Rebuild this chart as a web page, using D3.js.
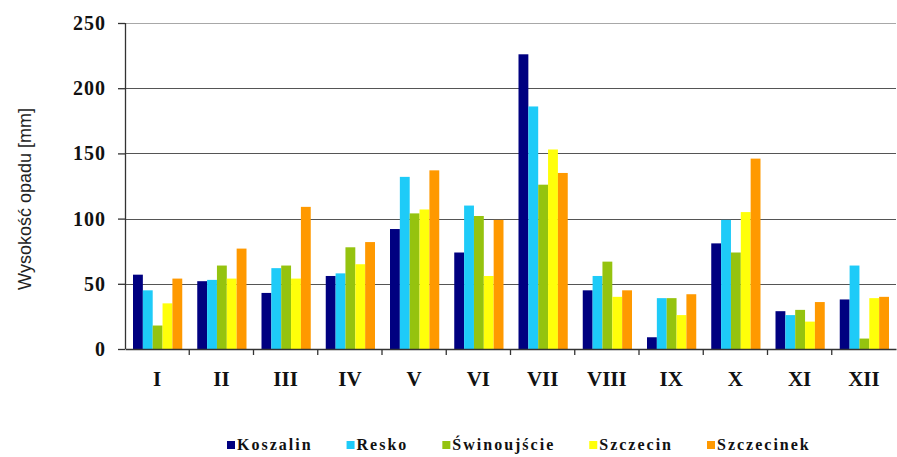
<!DOCTYPE html>
<html>
<head>
<meta charset="utf-8">
<script src="https://cdn.jsdelivr.net/npm/d3@7"></script>
<style>
  body { margin: 0; background: #fff; }
  svg { display: block; }
</style>
</head>
<body>
<script>
var months = ["I", "II", "III", "IV", "V", "VI", "VII", "VIII", "IX", "X", "XI", "XII"];
var stations = ["Koszalin", "Resko", "Świnoujście", "Szczecin", "Szczecinek"];
var colors = ["#000080", "#1ecbf8", "#95c30f", "#ffff0a", "#ff9900"];

// monthly precipitation [mm]
var koszalin    = [57, 52, 43, 56, 92, 74, 226, 45, 9, 81, 29, 38];
var resko       = [45, 53, 62, 58, 132, 110, 186, 56, 39, 99, 26, 64];
var swinoujscie = [18, 64, 64, 78, 104, 102, 126, 67, 39, 74, 30, 8];
var szczecin    = [35, 54, 54, 65, 107, 56, 153, 40, 26, 105, 21, 39];
var szczecinek  = [54, 77, 109, 82, 137, 99, 135, 45, 42, 146, 36, 40];

var yTicks = [0, 50, 100, 150, 200, 250];

var series = [koszalin, resko, swinoujscie, szczecin, szczecinek];

var width = 897, height = 457;
var margin = {top: 23, right: 1, bottom: 108, left: 125};
var plotW = width - margin.left - margin.right,
    plotH = height - margin.top - margin.bottom;

var svg = d3.select("body").append("svg")
    .attr("width", width)
    .attr("height", height);

var g = svg.append("g")
    .attr("transform", "translate(" + margin.left + "," + margin.top + ")");

var x0 = d3.scaleBand().domain(months).range([0, plotW]).padding(0);
var x1 = d3.scaleBand().domain(stations).range([8, x0.bandwidth() - 7]).padding(0);
var y = d3.scaleLinear().domain([0, 250]).range([plotH, 0]);

// gridlines
g.append("g")
  .selectAll("line")
  .data(yTicks.filter(function(d) { return d > 0; }))
  .enter().append("line")
  .attr("x1", 0).attr("x2", plotW)
  .attr("y1", function(d) { return Math.round(y(d)) + 0.5; })
  .attr("y2", function(d) { return Math.round(y(d)) + 0.5; })
  .attr("stroke", function(d) { return d == 250 ? "#a8a8a8" : "#555"; })
  .attr("stroke-width", 1.2);

// bars
var groups = g.append("g")
  .selectAll("g")
  .data(months)
  .enter().append("g")
  .attr("transform", function(d) { return "translate(" + x0(d) + ",0)"; });

groups.selectAll("rect")
  .data(function(m, i) {
    return stations.map(function(s, k) { return {station: s, k: k, value: series[k][i]}; });
  })
  .enter().append("rect")
  .attr("x", function(d) { return x1(d.station); })
  .attr("width", x1.bandwidth())
  .attr("y", function(d) { return y(d.value); })
  .attr("height", function(d) { return plotH - y(d.value); })
  .attr("fill", function(d) { return colors[d.k]; });

// y axis
var yAxis = g.append("g")
  .call(d3.axisLeft(y).tickValues(yTicks).tickSize(7).tickPadding(12))
  .attr("font-family", "'Liberation Serif', 'Times New Roman', serif")
  .attr("font-size", 20)
  .attr("font-weight", "bold");
yAxis.select(".domain").attr("stroke", "#333").attr("stroke-width", 1.3).attr("d", "M0.5," + plotH + "V0");
yAxis.selectAll(".tick line").attr("stroke", "#333").attr("stroke-width", 1.3);
yAxis.selectAll(".tick text").attr("fill", "#111").attr("letter-spacing", 1);

// x axis
var xAxis = g.append("g")
  .attr("transform", "translate(0," + plotH + ")")
  .call(d3.axisBottom(x0).tickSize(0).tickPadding(22))
  .attr("font-family", "'Liberation Serif', 'Times New Roman', serif")
  .attr("font-size", 21)
  .attr("font-weight", "bold");
xAxis.select(".domain").attr("stroke", "#333").attr("stroke-width", 1.3);
xAxis.selectAll(".tick text").attr("fill", "#111");

// boundary ticks between months
xAxis.selectAll("line.sep")
  .data(months.slice(1))
  .enter().append("line")
  .attr("class", "sep")
  .attr("x1", function(d) { return x0(d); })
  .attr("x2", function(d) { return x0(d); })
  .attr("y1", 0).attr("y2", 6)
  .attr("stroke", "#333").attr("stroke-width", 1.3);

// y title
svg.append("text")
  .attr("transform", "translate(31," + (margin.top + 176) + ") rotate(-90)")
  .attr("text-anchor", "middle")
  .attr("font-family", "'Liberation Sans', Arial, sans-serif")
  .attr("font-size", 18)
  .attr("fill", "#222")
  .text("Wysokość opadu [mm]");

// legend
var legend = svg.append("g").attr("transform", "translate(227,450)");
var lx = 0;
stations.forEach(function(s, k) {
  var item = legend.append("g").attr("transform", "translate(" + lx + ",0)");
  item.append("rect")
    .attr("x", 0).attr("y", -9)
    .attr("width", 8).attr("height", 8)
    .attr("fill", colors[k]);
  var t = item.append("text")
    .attr("x", 10)
    .attr("font-family", "'Liberation Serif', 'Times New Roman', serif")
    .attr("font-size", 16)
    .attr("font-weight", "bold")
    .attr("letter-spacing", 2)
    .attr("fill", "#111")
    .text(s);
  lx += 10 + t.node().getComputedTextLength() + 34;
});
</script>
</body>
</html>
